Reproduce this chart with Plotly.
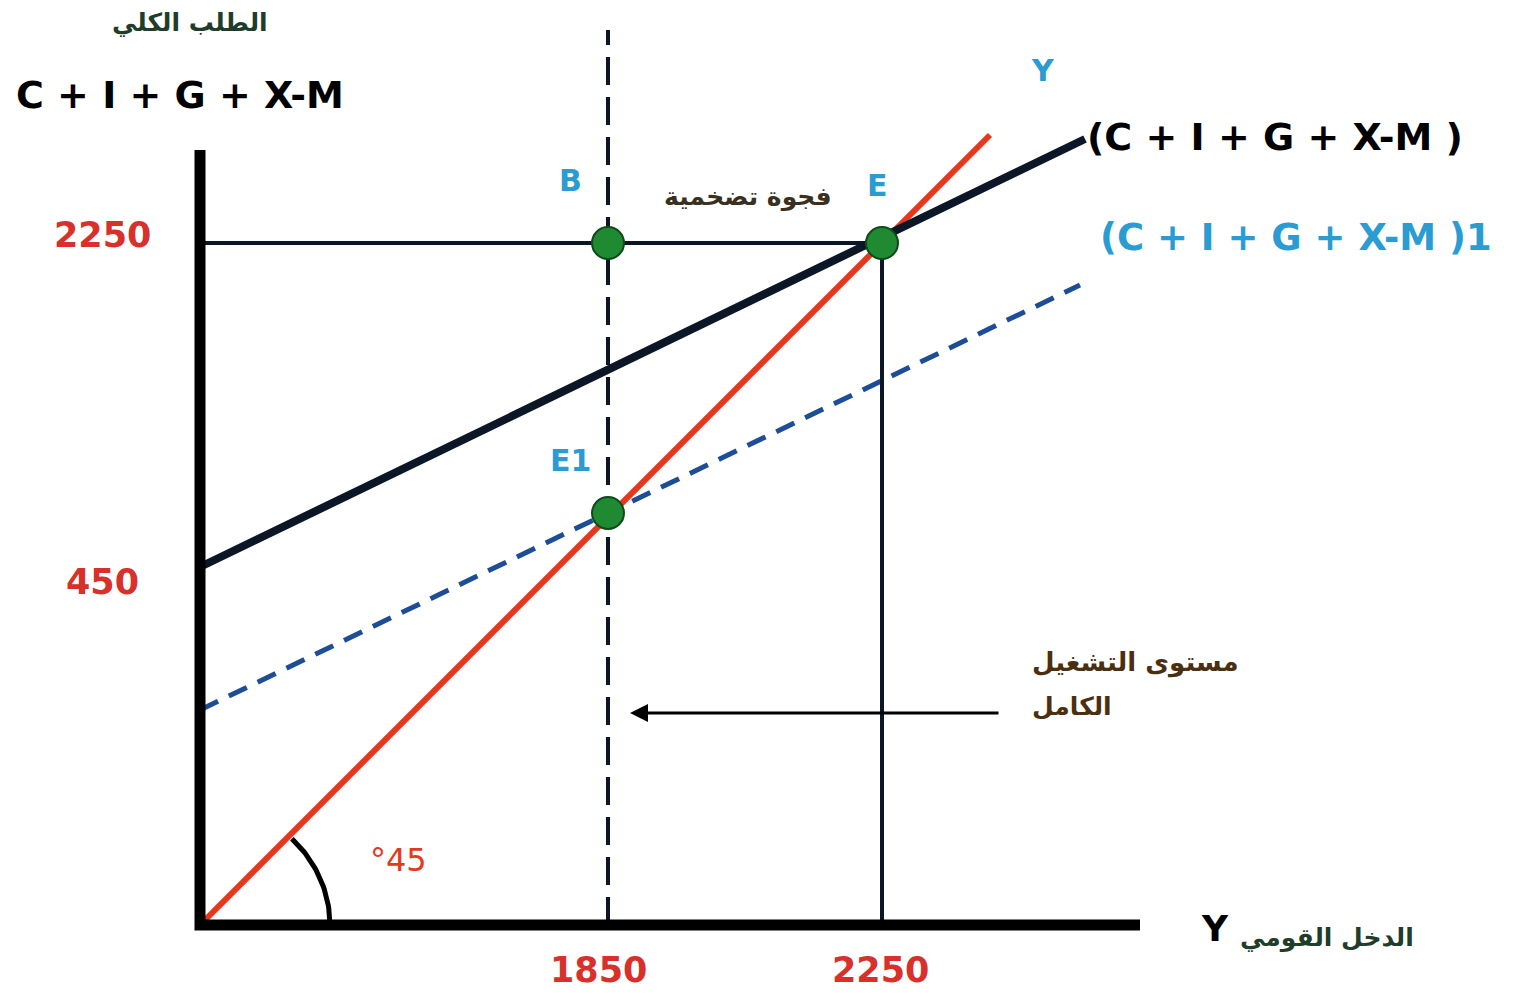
import numpy as np
import plotly.graph_objects as go

# -- Schematic coordinates (income on x, aggregate demand on y), origin at axis corner
axis_x_end = 940
axis_y_end = 775

line_45_x = [0, 790]
line_45_y = [0, 790]

ad_x = [0, 885]
ad_y = [358, 786]

ad1_x = [0, 880]
ad1_y = [215, 640]

full_emp_x = 408
full_emp_top = 895

eq_x = 682
eq_y = 682

points_x = [408, 682, 408]
points_y = [682, 682, 412]
points_names = ["B", "E", "E1"]

x_tick_vals = [398, 680]
x_tick_text = ["1850", "2250"]
y_tick_vals = [690, 343]
y_tick_text = ["2250", "450"]

RED = "#e5391f"
TICK_RED = "#d8302a"
NAVY = "#0b1626"
BLUE_DASH = "#1d4d96"
CYAN = "#2a9cd2"

fig = go.Figure()

# 45 degree line
fig.add_trace(go.Scatter(x=line_45_x, y=line_45_y, mode="lines",
                         line=dict(color=RED, width=6)))

# aggregate demand lines
fig.add_trace(go.Scatter(x=ad_x, y=ad_y, mode="lines",
                         line=dict(color=NAVY, width=8)))
fig.add_trace(go.Scatter(x=ad1_x, y=ad1_y, mode="lines",
                         line=dict(color=BLUE_DASH, width=5, dash="20px,12px")))

# guide lines at equilibrium E
fig.add_trace(go.Scatter(x=[0, eq_x, eq_x], y=[eq_y, eq_y, 0], mode="lines",
                         line=dict(color=NAVY, width=4)))

# full employment level (dashed vertical)
fig.add_trace(go.Scatter(x=[full_emp_x, full_emp_x], y=[0, full_emp_top], mode="lines",
                         line=dict(color=NAVY, width=4, dash="28px,12px")))

# angle marker
theta = np.linspace(0, np.pi / 4, 40)
fig.add_trace(go.Scatter(x=130 * np.cos(theta), y=122 * np.sin(theta), mode="lines",
                         line=dict(color="black", width=5)))

# axes
fig.add_trace(go.Scatter(x=[0, 0, axis_x_end], y=[axis_y_end, 0, 0], mode="lines",
                         line=dict(color="black", width=11)))

# equilibrium points
fig.add_trace(go.Scatter(x=points_x, y=points_y, mode="markers",
                         marker=dict(color="#1f8a32", size=32,
                                     line=dict(color="#0e4a1a", width=2))))

ann = []
bold = dict(family="DejaVu Sans", size=38, color="black")
ar = "DejaVu Sans"

for v, t in zip(x_tick_vals, x_tick_text):
    ann.append(dict(x=v, y=-45, text=f"<b>{t}</b>", font=dict(family=ar, size=35, color=TICK_RED)))
for v, t in zip(y_tick_vals, y_tick_text):
    ann.append(dict(x=-98, y=v, text=f"<b>{t}</b>", font=dict(family=ar, size=35, color=TICK_RED)))

ann += [
    dict(x=-10, y=903, text="<b>الطلب الكلي</b>", font=dict(family=ar, size=25, color="#1f3d2a")),
    dict(x=-20, y=830, text="<b>C + I + G + X-M</b>", font=bold),
    dict(x=885, y=788, text="<b>(C + I + G + X-M )</b>", xanchor="left", font=bold),
    dict(x=898, y=688, text="<b>(C + I + G + X-M )1</b>", xanchor="left",
         font=dict(family=ar, size=37, color=CYAN)),
    dict(x=843, y=855, text="<b>Y</b>", font=dict(family=ar, size=30, color=CYAN)),
    dict(x=370, y=745, text="<b>B</b>", font=dict(family=ar, size=30, color=CYAN)),
    dict(x=677, y=740, text="<b>E</b>", font=dict(family=ar, size=30, color=CYAN)),
    dict(x=370, y=465, text="<b>E1</b>", font=dict(family=ar, size=30, color=CYAN)),
    dict(x=548, y=728, text="<b>فجوة تضخمية</b>", font=dict(family=ar, size=25, color="#3a3020")),
    dict(x=830, y=263, text="<b>مستوى التشغيل</b>", xanchor="left",
         font=dict(family=ar, size=26, color="#4a3010")),
    dict(x=830, y=219, text="<b>الكامل</b>", xanchor="left",
         font=dict(family=ar, size=25, color="#4a3010")),
    dict(x=1015, y=-3, text="<b>Y</b>", font=dict(family=ar, size=36, color="black")),
    dict(x=1127, y=-13, text="<b>الدخل القومي</b>", font=dict(family=ar, size=25, color="#1f3d2a")),
    dict(x=198, y=65, text="°45", font=dict(family=ar, size=32, color=RED)),
]
for a in ann:
    a.update(showarrow=False, xref="x", yref="y")

# arrow pointing at the full employment level
ann.append(dict(x=full_emp_x + 22, y=212, ax=800, ay=212, xref="x", yref="y",
                axref="x", ayref="y", showarrow=True, arrowhead=2, arrowsize=1.2,
                arrowwidth=3, arrowcolor="black", text=""))

# page body adds an 8px margin, so the ranges are shifted to compensate
fig.update_layout(
    width=1529, height=1000,
    margin=dict(l=0, r=0, t=0, b=0),
    paper_bgcolor="white", plot_bgcolor="white",
    showlegend=False,
    xaxis=dict(range=[-192, 1337], visible=False, fixedrange=True),
    yaxis=dict(range=[-83, 917], visible=False, fixedrange=True),
    annotations=ann,
)

fig.write_html("out.html")
